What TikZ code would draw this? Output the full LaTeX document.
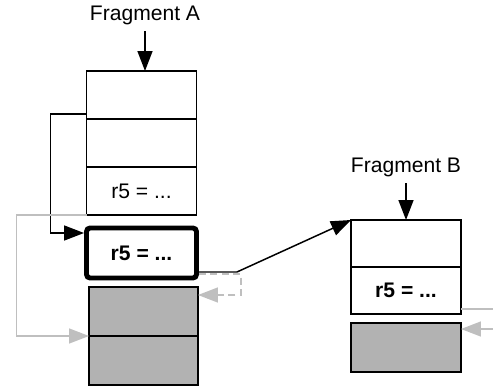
\documentclass[tikz,border=0pt]{standalone}
\usepackage{fontspec}
\setmainfont{Liberation Sans}
\usetikzlibrary{arrows.meta,positioning}

\begin{document}
\begin{tikzpicture}
	[x=0.02cm,y=-0.02cm,>={Triangle[length=0.4cm,width=0.3cm]},line width=0.85pt,
		font=\fontsize{12}{14}\selectfont,
		cell/.style={draw,rectangle,minimum width=2.2cm,minimum height=0.96cm,inner sep=0pt,outer sep=0pt},
		hot cell/.style={cell,line width=2.8pt,rounded corners=2pt,minimum height=1cm,outer sep=1.4pt,font=\fontsize{12}{14}\selectfont\bfseries},
		dead cell/.style={cell,fill=black!30,minimum width=2.18cm,minimum height=0.98cm},
		back/.style={draw=black!25,->}]

	\useasboundingbox (0,0) rectangle (493,385);

	% fragment A
	\node (fa) at (145,15) {Fragment A};
	\node[cell]  (A1) at (141.5,95) {};
	\node[cell]  [below=0pt of A1]  (A2)  {};
	\node[cell]  [below=0pt of A2]  (A3)  {r5 = ...};
	\node[hot cell]  (hot) at (141.5,253) {r5 = ...};
	\node[dead cell]  (G1) at (143.5,311.5) {};
	\node[dead cell]  [below=0pt of G1]  (G2)  {};

	% fragment B
	\node (fb) at (406,167) {Fragment B};
	\node[cell,minimum height=0.94cm]  (B1) at (406,243.5) {};
	\node[cell,minimum height=0.94cm,font=\fontsize{12}{14}\selectfont\bfseries]  [below=0pt of B1]  (B2)  {r5 = ...};
	\node[dead cell,minimum width=2.2cm]  (B3) at (406,347.5) {};

	\draw[->] (fa) -- (fa |- A1.north);
	\draw[->] (fb) -- (fb |- B1.north);
	\draw[->] ([yshift=0.1cm]A1.south west) -- ++(-36,0) |- ([yshift=0.4cm]hot.west);
	\draw[->] ([yshift=-0.38cm]hot.east) -- ++(38,0) -- (B1.north west);

	\draw[back] (A3.south west) -- ++(-70,0) |- (G2.north west);
	\draw[back,dash pattern=on 4pt off 2.5pt] ([yshift=-0.42cm]hot.east) -- ++(42,0) |- ([yshift=0.33cm]G1.east);
	\draw[draw=black!25] ([yshift=0.1cm]B2.south east) -- ++(32,0);
	\draw[back,<-] ([yshift=0.37cm]B3.east) -- ++(32,0);

\end{tikzpicture}
\end{document}
